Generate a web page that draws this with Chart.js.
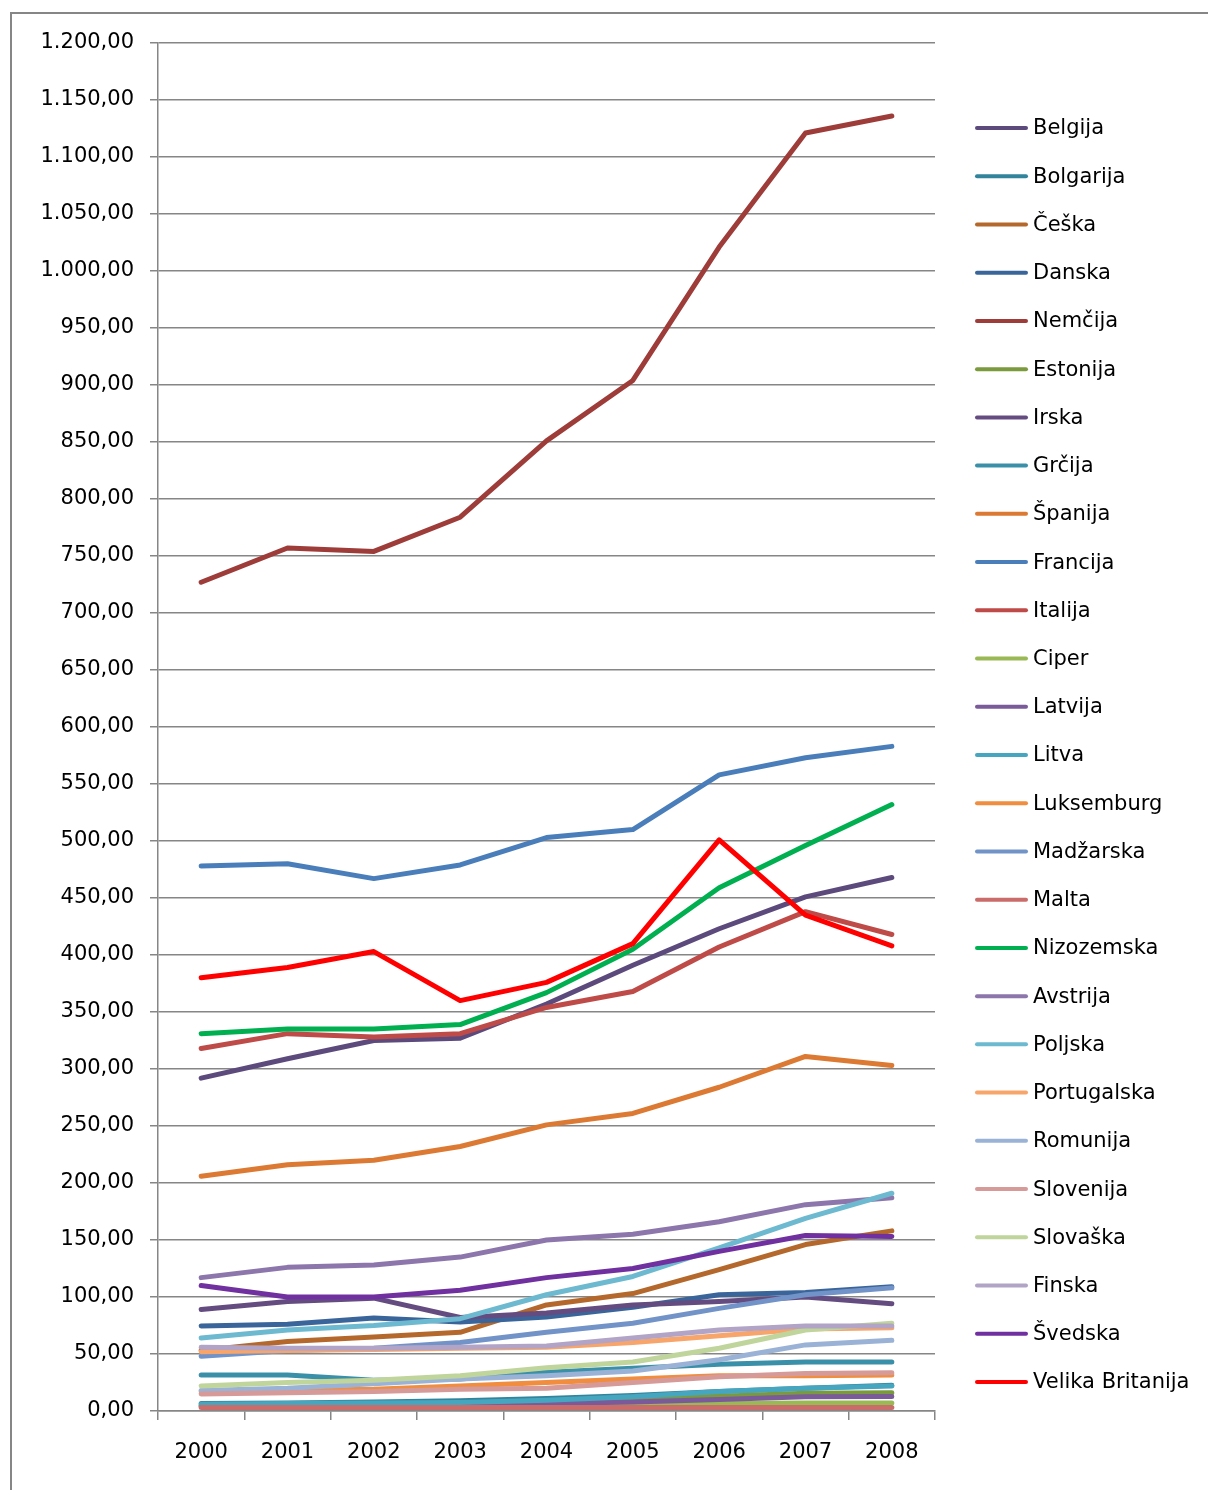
<!DOCTYPE html>
<html>
<head>
<meta charset="utf-8">
<script src="https://cdn.jsdelivr.net/npm/chart.js@4/dist/chart.umd.min.js"></script>
<style>
  html, body { margin: 0; padding: 0; background: #fff; }
  canvas { display: block; }
</style>
</head>
<body>
<canvas id="chart" width="1208" height="1490"></canvas>
<script>
const years = ["2000", "2001", "2002", "2003", "2004", "2005", "2006", "2007", "2008"];

const belgija = [292, 309, 325, 327, 357, 391, 423, 451, 468];
const bolgarija = [6.5, 7, 8, 9, 11, 13.5, 17, 20, 22.5];
const ceska = [53, 61, 65, 69, 93, 103, 124, 146, 158];
const danska = [74.5, 76, 81.5, 78, 82.5, 91, 102, 104, 109];
const nemcija = [727, 757, 754, 784, 851, 904, 1021, 1121, 1136];
const estonija = [4.5, 5, 5.5, 6.5, 8, 10, 13, 15.5, 16];
const irska = [89, 96, 99, 82, 86, 93, 96, 100, 94];
const grcija = [31.5, 31.5, 27, 28, 34, 37.5, 41, 43, 43];
const spanija = [206, 216, 220, 232, 251, 261, 284, 311, 303];
const francija = [478, 480, 467, 479, 503, 510, 558, 573, 583];
const italija = [318, 331, 328, 331, 354, 368, 407, 438, 418];
const ciper = [5, 5, 5.5, 5.5, 6, 6, 6.5, 7, 7];
const latvija = [4, 4.5, 5, 5.5, 6.5, 8, 10, 12.5, 12.7];
const litva = [6, 6.5, 7, 7.5, 9.5, 12.5, 17, 20, 22];
const luksemburg = [17, 18, 19, 22, 25, 28, 31, 31, 31.5];
const madzarska = [48, 53, 55, 60, 69, 77, 90, 102, 108];
const malta = [3, 3, 3, 3, 3, 3, 3, 3, 3];
const nizozemska = [331, 335, 335, 339, 367, 405, 459, 496, 532];
const avstrija = [117, 126, 128, 135, 150, 155, 166, 181, 187];
const poljska = [64, 71, 75, 81, 102, 118, 143, 169, 191];
const portugalska = [52, 53, 54, 55, 56, 60, 66, 72, 73];
const romunija = [18, 20, 24, 28, 31, 35, 45, 58, 62];
const slovenija = [15, 16, 17, 19, 20, 25, 30, 33, 33.5];
const slovaska = [22, 25, 27, 31, 38, 43, 55, 71, 77];
const finska = [56, 55, 55, 56, 57, 64, 71, 74.5, 74.5];
const svedska = [110, 100, 100, 106, 117, 125, 140, 154, 153];
const velikaBritanija = [380, 389, 403, 360, 376, 410, 501, 435, 408];

const series = [
  ["Belgija", belgija, "#5c4a7d"],
  ["Bolgarija", bolgarija, "#31849b"],
  ["Češka", ceska, "#b4682c"],
  ["Danska", danska, "#3a659a"],
  ["Nemčija", nemcija, "#9e3c39"],
  ["Estonija", estonija, "#7b9a3e"],
  ["Irska", irska, "#644c80"],
  ["Grčija", grcija, "#3a90a8"],
  ["Španija", spanija, "#dc7a33"],
  ["Francija", francija, "#4a7ebb"],
  ["Italija", italija, "#be4b48"],
  ["Ciper", ciper, "#98b954"],
  ["Latvija", latvija, "#7a5a99"],
  ["Litva", litva, "#46a6c0"],
  ["Luksemburg", luksemburg, "#f08d3e"],
  ["Madžarska", madzarska, "#7193c8"],
  ["Malta", malta, "#c96c6a"],
  ["Nizozemska", nizozemska, "#00b050"],
  ["Avstrija", avstrija, "#8c76ab"],
  ["Poljska", poljska, "#6cb9d0"],
  ["Portugalska", portugalska, "#f7a56a"],
  ["Romunija", romunija, "#9ab2d5"],
  ["Slovenija", slovenija, "#d69a98"],
  ["Slovaška", slovaska, "#c0d59c"],
  ["Finska", finska, "#b2a4c6"],
  ["Švedska", svedska, "#7030a0"],
  ["Velika Britanija", velikaBritanija, "#ff0000"],
];

const FONT = "'DejaVu Sans', sans-serif";

// 1200 -> "1.200,00"
function fmt(v) {
  const whole = Math.round(v).toString().replace(/\B(?=(\d{3})+(?!\d))/g, ".");
  return whole + ",00";
}

const frame = {
  id: "frame",
  beforeDraw(chart) {
    const ctx = chart.ctx;
    ctx.save();
    ctx.fillStyle = "#fff";
    ctx.fillRect(0, 0, chart.width, chart.height);
    ctx.strokeStyle = "#868686";
    ctx.lineWidth = 2;
    ctx.strokeRect(11, 13, 1220, 1500);
    ctx.restore();
  },
};

const sideLegend = {
  id: "sideLegend",
  afterDraw(chart) {
    const ctx = chart.ctx;
    ctx.save();
    ctx.font = "21px " + FONT;
    ctx.textBaseline = "middle";
    chart.data.datasets.forEach((ds, i) => {
      const y = 128 + i * 48.23;
      ctx.strokeStyle = ds.borderColor;
      ctx.lineWidth = 4;
      ctx.lineCap = "round";
      ctx.beginPath();
      ctx.moveTo(977, y);
      ctx.lineTo(1026, y);
      ctx.stroke();
      ctx.fillStyle = "#000";
      ctx.fillText(ds.label, 1033, y + 1);
    });
    ctx.restore();
  },
};

new Chart(document.getElementById("chart"), {
  type: "line",
  data: {
    labels: years,
    datasets: series.map(([name, values, color], i) => ({
      label: name,
      data: values,
      borderColor: color,
      backgroundColor: color,
      order: series.length - i,
    })),
  },
  options: {
    responsive: false,
    animation: false,
    layout: { padding: { top: 43, right: 273, left: 0, bottom: 0 } },
    elements: {
      point: { radius: 0 },
      line: {
        tension: 0,
        borderWidth: 5,
        borderCapStyle: "round",
        borderJoinStyle: "round",
        fill: false,
      },
    },
    plugins: {
      legend: { display: false },
      tooltip: { enabled: false },
    },
    scales: {
      x: {
        offset: true,
        grid: {
          offset: true,
          drawOnChartArea: false,
          color: "#868686",
          lineWidth: 1.5,
          tickLength: 9,
        },
        border: { color: "#868686", width: 1.5 },
        ticks: { color: "#000", font: { family: FONT, size: 21 }, padding: 20, maxRotation: 0 },
        afterFit(scale) { scale.height = 79; },
      },
      y: {
        min: 0,
        max: 1200,
        grid: { color: "#868686", lineWidth: 1.5, tickLength: 8 },
        border: { color: "#868686", width: 1.5 },
        ticks: {
          stepSize: 50,
          color: "#000",
          font: { family: FONT, size: 21 },
          padding: 16,
          callback: (v) => fmt(v),
        },
        afterFit(scale) { scale.width = 158; },
      },
    },
  },
  plugins: [frame, sideLegend],
});
</script>
</body>
</html>
